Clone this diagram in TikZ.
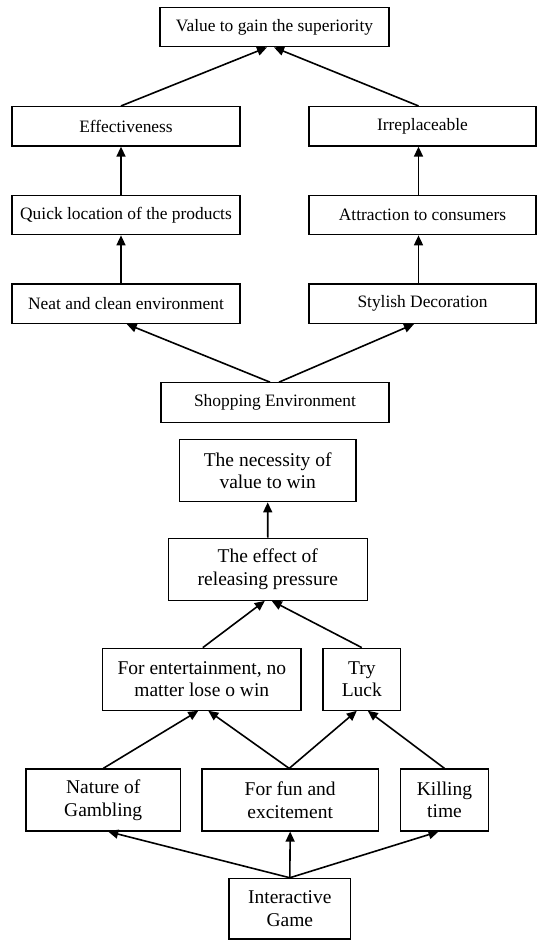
\documentclass[tikz,border=0pt]{standalone}
\usepackage{fontspec}
\setmainfont{Liberation Serif}
\usetikzlibrary{arrows.meta}
\tikzset{
	linebox/.style={draw, line width=1.2pt, inner sep=0pt, minimum height=39.5pt, font=\fontsize{17.4}{21}\selectfont},
	twobox/.style={draw, line width=1.2pt, inner sep=0pt, minimum height=62pt, align=center, font=\fontsize{19.5}{22.6}\selectfont},
	link/.style={line width=1.6pt, -{Triangle[length=10pt,width=9pt]}}
}

\begin{document}
\begin{tikzpicture}[x=1pt, y=-1pt]
			%%%%% START %%%%%
			\useasboundingbox (0, 0) rectangle (537, 940);
			
			\node[linebox, minimum width=229pt] (val) at (274.5, 27) {Value to gain the superiority};
			
			\node[linebox, minimum width=228pt] (eff) at (126, 126.3) {Effectiveness};
			\node[linebox, minimum width=227pt] (irr) at (422.5, 126.3) {Irreplaceable};
			\node[linebox, minimum width=228pt] (quick) at (126, 215) {Quick location of the products};
			\node[linebox, minimum width=227pt] (attr) at (422.5, 215) {Attraction to consumers};
			\node[linebox, minimum width=228pt] (neat) at (126, 303.7) {Neat and clean environment};
			\node[linebox, minimum width=227pt] (styl) at (422.5, 303.7) {Stylish Decoration};
			
			\node[linebox, minimum width=228pt] (shop) at (275, 402.5) {Shopping Environment};
			
			\draw[link] ([xshift=-5pt]eff.north) -- ([xshift=-7.5pt]val.south);
			\draw[link] ([xshift=-4pt]irr.north) -- ([xshift=-0.5pt]val.south);
			\draw[link] ([xshift=-5pt]quick.north) -- ([xshift=-5pt]eff.south);
			\draw[link] ([xshift=-4pt]attr.north) -- ([xshift=-4pt]irr.south);
			\draw[link] ([xshift=-5pt]neat.north) -- ([xshift=-5pt]quick.south);
			\draw[link] ([xshift=-4pt]styl.north) -- ([xshift=-4pt]attr.south);
			\draw[link] ([xshift=-5pt]shop.north) -- ([xshift=0.7pt]neat.south);
			\draw[link] ([xshift=4pt]shop.north) -- ([xshift=-8.5pt]styl.south);
			
			\node[twobox, minimum width=176.7pt] (nec) at (267.7, 470.8) {The necessity of\\value to win};
			\node[twobox, minimum width=199pt] (relief) at (267.8, 569.3) {The effect of\\releasing pressure};
			
			\node[twobox, minimum width=198.3pt] (ent) at (201.8, 679.2) {For entertainment, no\\matter lose o win};
			\node[twobox, minimum width=77.7pt] (luck) at (361.8, 679.2) {Try\\Luck};
			
			\node[twobox, minimum width=154.3pt] (gamb) at (103.2, 800) {Nature of\\Gambling};
			\node[twobox, minimum width=176.3pt] (fun) at (290.2, 800) {For fun and\\excitement};
			\node[twobox, minimum width=88.4pt] (kill) at (444.5, 800) {Killing\\time};
			
			\node[twobox, minimum width=121.7pt, minimum height=60.7pt] (game) at (289.8, 908.7) {Interactive\\Game};
			
			\draw[link] (relief.north) -- (nec.south);
			\draw[link] ([xshift=1pt]ent.north) -- ([xshift=-3pt]relief.south);
			\draw[link] (luck.north) -- ([xshift=4pt]relief.south);
			\draw[link] (gamb.north) -- ([xshift=-3.5pt]ent.south);
			\draw[link] ([xshift=-1pt]fun.north) -- ([xshift=6.5pt]ent.south);
			\draw[link] ([xshift=-1pt]fun.north) -- ([xshift=-5pt]luck.south);
			\draw[link] (kill.north) -- ([xshift=6pt]luck.south);
			\draw[link] (game.north) -- ([xshift=5pt]gamb.south);
			\draw[link] (game.north) -- (fun.south);
			\draw[link] (game.north) -- ([xshift=-6pt]kill.south);
			
			%%%%% END %%%%%
\end{tikzpicture}
\end{document}
